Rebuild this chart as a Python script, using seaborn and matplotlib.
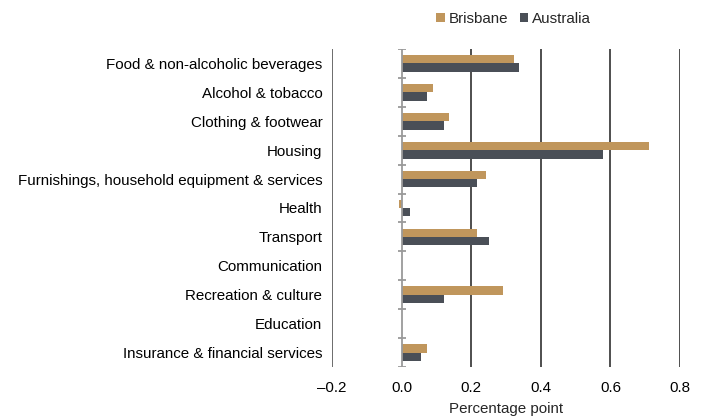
import numpy as np
import pandas as pd
import matplotlib
matplotlib.use("Agg")
import matplotlib.pyplot as plt
import seaborn as sns

categories = [
    "Food & non-alcoholic beverages",
    "Alcohol & tobacco",
    "Clothing & footwear",
    "Housing",
    "Furnishings, household equipment & services",
    "Health",
    "Transport",
    "Communication",
    "Recreation & culture",
    "Education",
    "Insurance & financial services",
]
brisbane = [0.322, 0.089, 0.137, 0.711, 0.242, -0.007, 0.218, 0.0, 0.291, 0.0, 0.073]
australia = [0.338, 0.073, 0.121, 0.580, 0.217, 0.024, 0.250, 0.0, 0.121, 0.0, 0.056]
series = ["Brisbane", "Australia"]
colors = ["#C0965C", "#4A4F57"]
xticks = [-0.2, 0.0, 0.2, 0.4, 0.6, 0.8]

df = pd.DataFrame({
    "category": categories * 2,
    "value": brisbane + australia,
    "series": [series[0]] * len(categories) + [series[1]] * len(categories),
})

sns.set_style("white")
plt.rcParams["font.family"] = ["Liberation Sans", "DejaVu Sans"]
FS = 10.9
plt.rcParams["font.size"] = FS

fig = plt.figure(figsize=(7.07, 4.17), dpi=100)
ax = fig.add_axes([0.4696, 0.1199, 0.4922, 0.7626])

sns.barplot(data=df, y="category", x="value", hue="series", order=categories,
            hue_order=series, palette=colors, orient="h", width=0.58,
            saturation=1, ax=ax, legend=True, edgecolor="none", linewidth=0)

ax.set_xlim(-0.2, 0.8)
ax.set_ylim(len(categories) - 0.5, -0.5)
ax.set_xticks(xticks)
ax.set_xticklabels([f"{t:.1f}".replace("-", "\u2013") for t in xticks])
ax.tick_params(axis="x", length=0, pad=10, labelsize=FS, colors="#000000")
ax.tick_params(axis="y", length=0, pad=7, labelsize=FS, colors="#000000")
ax.set_ylabel("")
ax.set_xlabel("Percentage point", fontsize=FS, labelpad=5)
for s in ax.spines.values():
    s.set_visible(False)

ax.grid(axis="x", color="#1e1e1e", linewidth=1.1)
ax.set_axisbelow(True)
for t, gl in zip(xticks, ax.xaxis.get_gridlines()):
    if t == 0.0:
        gl.set_visible(False)
    if t == -0.2:
        gl.set_color("#444444")

# zero axis with cross ticks at category boundaries
ax.axvline(0, color="#9a9a9a", linewidth=1.3, zorder=3)
bounds = np.arange(len(categories) + 1) - 0.5
ax.hlines(bounds, -0.0115, 0.0115, color="#9a9a9a", linewidth=1.3, zorder=3)

leg = ax.legend(loc="center right", bbox_to_anchor=(591 / 707, 1 - 19 / 417),
                bbox_transform=fig.transFigure, ncol=2, frameon=False,
                handlelength=0.55, handleheight=0.55, handletextpad=0.25,
                columnspacing=0.8, fontsize=FS, borderaxespad=0, borderpad=0)

fig.savefig("out.png", dpi=100)
